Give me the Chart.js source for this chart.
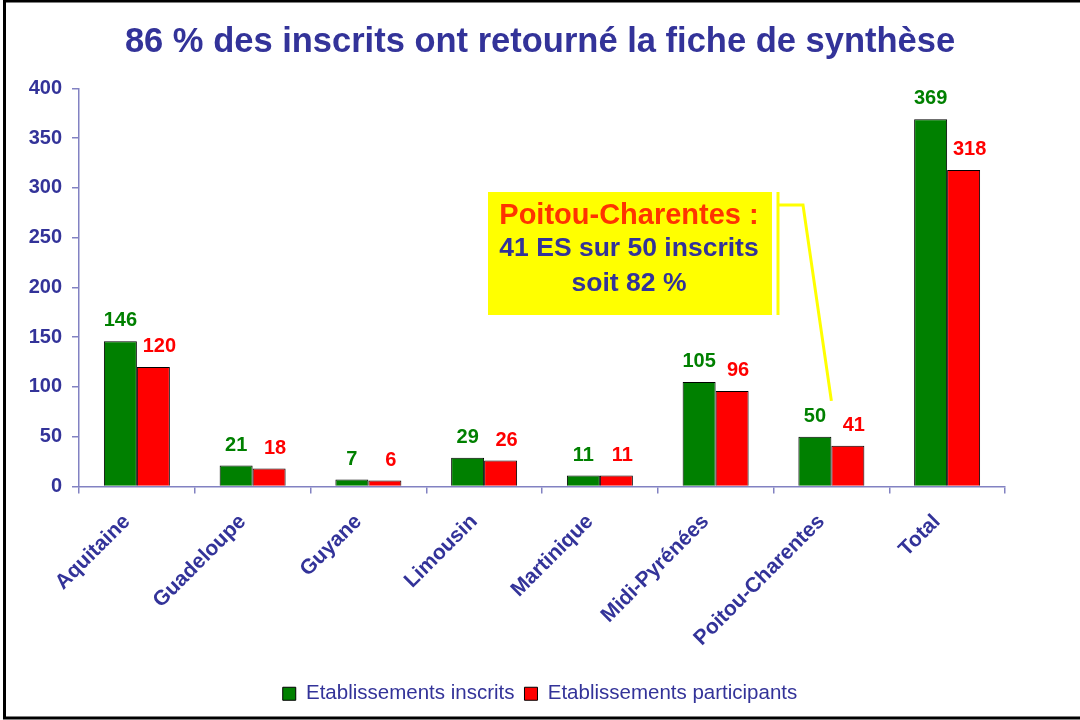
<!DOCTYPE html>
<html>
<head>
<meta charset="utf-8">
<script src="https://cdn.jsdelivr.net/npm/chart.js@4.4.1/dist/chart.umd.min.js"></script>
<style>
  html, body { margin: 0; padding: 0; background: #fff; overflow: hidden; }
  #wrap { width: 1080px; height: 720px; }
</style>
</head>
<body>
<div id="wrap"><canvas id="regionsChart" width="1080" height="720"></canvas></div>
<script>
// chart values
const regions = ['Aquitaine', 'Guadeloupe', 'Guyane', 'Limousin', 'Martinique', 'Midi-Pyrénées', 'Poitou-Charentes', 'Total'];
const inscrits = [146, 21, 7, 29, 11, 105, 50, 369];
const participants = [120, 18, 6, 26, 11, 96, 41, 318];
const seriesNames = ['Etablissements inscrits', 'Etablissements participants'];
const yMin = 0, yMax = 400, yStep = 50;
const calloutText = ['Poitou-Charentes :', '41 ES sur 50 inscrits', 'soit 82 %'];
const calloutTarget = { category: 6, value: 86 };

const FONT = 'Arial, "Liberation Sans", sans-serif';
const NAVY = '#333399';
const AXIS = '#8282c2';

// white background + frame lines
const framePlugin = {
    id: 'frame',
    beforeDraw(chart) {
        const c = chart.ctx;
        c.save();
        c.fillStyle = '#fff';
        c.fillRect(0, 0, chart.width, chart.height);
        c.restore();
    },
    afterDraw(chart) {
        const c = chart.ctx;
        c.save();
        c.strokeStyle = '#000';
        c.lineWidth = 3;
        c.beginPath();
        c.moveTo(chart.width + 5, 1);
        c.lineTo(4.5, 1);
        c.lineTo(4.5, 718);
        c.lineTo(chart.width + 5, 718);
        c.stroke();
        c.restore();
    }
};

// value labels above each bar
const valueLabels = {
    id: 'valueLabels',
    afterDatasetsDraw(chart) {
        const c = chart.ctx;
        c.save();
        c.font = 'bold 20px ' + FONT;
        c.textAlign = 'center';
        c.textBaseline = 'alphabetic';
        chart.data.datasets.forEach((ds, i) => {
            const meta = chart.getDatasetMeta(i);
            c.fillStyle = ds.labelColor;
            meta.data.forEach((bar, j) => {
                c.fillText(ds.data[j], bar.x + (i === 1 ? 6 : 0), bar.y - 15);
            });
        });
        c.restore();
    }
};

// yellow callout box for Poitou-Charentes
const callout = {
    id: 'callout',
    afterDraw(chart) {
        const c = chart.ctx;
        const tx = chart.scales.x.getPixelForValue(calloutTarget.category);
        const ty = chart.scales.y.getPixelForValue(calloutTarget.value);
        c.save();
        c.fillStyle = '#ffff00';
        c.fillRect(488, 192, 284, 123);
        c.strokeStyle = '#ffff00';
        c.lineWidth = 3;
        c.beginPath();
        c.moveTo(778, 192);
        c.lineTo(778, 315);
        c.moveTo(778, 205);
        c.lineTo(803, 205);
        c.lineTo(tx, ty);
        c.stroke();
        c.textAlign = 'center';
        c.textBaseline = 'middle';
        c.fillStyle = '#ff3300';
        c.font = 'bold 29px ' + FONT;
        c.fillText(calloutText[0], 629, 216);
        c.fillStyle = NAVY;
        c.font = 'bold 26.5px ' + FONT;
        c.fillText(calloutText[1], 629, 249);
        c.fillText(calloutText[2], 629, 284);
        c.restore();
    }
};

new Chart(document.getElementById('regionsChart').getContext('2d'), {
    type: 'bar',
    data: {
        labels: regions,
        datasets: [
            {
                label: seriesNames[0],
                data: inscrits,
                backgroundColor: '#008000',
                borderColor: '#000',
                borderWidth: 1,
                labelColor: '#008000',
                categoryPercentage: 0.57,
                barPercentage: 1
            },
            {
                label: seriesNames[1],
                data: participants,
                backgroundColor: '#ff0000',
                borderColor: '#000',
                borderWidth: 1,
                labelColor: '#ff0000',
                categoryPercentage: 0.57,
                barPercentage: 1
            }
        ]
    },
    options: {
        responsive: false,
        animation: false,
        devicePixelRatio: 1,
        layout: { padding: { left: 0, right: 0, top: 0, bottom: 6 } },
        plugins: {
            title: {
                display: true,
                text: '86 % des inscrits ont retourné la fiche de synthèse',
                color: NAVY,
                font: { family: FONT, size: 34.5, weight: 'bold', lineHeight: 1.2 },
                padding: { top: 22, bottom: 25 }
            },
            legend: {
                position: 'bottom',
                labels: {
                    color: NAVY,
                    font: { family: FONT, size: 20.5 },
                    boxWidth: 13,
                    boxHeight: 13,
                    padding: 10
                }
            },
            tooltip: { enabled: false }
        },
        scales: {
            x: {
                grid: { drawOnChartArea: false, offset: true, tickLength: 7, color: AXIS, lineWidth: 1.5 },
                border: { color: AXIS, width: 1.5 },
                ticks: {
                    color: NAVY,
                    font: { family: FONT, size: 21, weight: 'bold' },
                    minRotation: 45,
                    maxRotation: 45,
                    autoSkip: false,
                    labelOffset: -10,
                    padding: 16
                },
                afterFit(scale) { scale.height = 187; }
            },
            y: {
                min: yMin,
                max: yMax,
                grid: { drawOnChartArea: false, tickLength: 7, color: AXIS, lineWidth: 1.5 },
                border: { color: AXIS, width: 1.5 },
                ticks: {
                    stepSize: yStep,
                    color: NAVY,
                    font: { family: FONT, size: 20, weight: 'bold' },
                    padding: 10
                },
                afterFit(scale) { scale.width = 79; }
            },
            // empty right-hand gutter so title and legend stay centred on the page
            gutter: {
                type: 'linear',
                position: 'right',
                display: true,
                grid: { display: false },
                border: { display: false },
                ticks: { display: false },
                afterFit(scale) { scale.width = 75; }
            }
        }
    },
    plugins: [framePlugin, valueLabels, callout]
});
</script>
</body>
</html>
